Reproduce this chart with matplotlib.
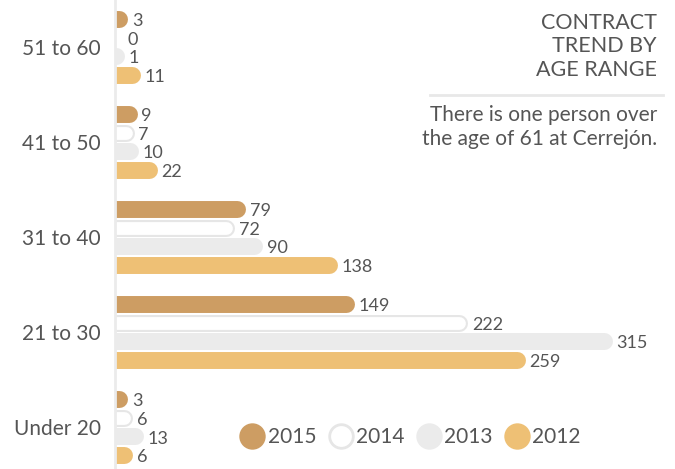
import matplotlib
matplotlib.use("Agg")
import matplotlib.pyplot as plt
from matplotlib.lines import Line2D

# data
age_ranges = ["51 to 60", "41 to 50", "31 to 40", "21 to 30", "Under 20"]
years = ["2015", "2014", "2013", "2012"]
v2015 = [3, 9, 79, 149, 3]
v2014 = [0, 7, 72, 222, 6]
v2013 = [1, 10, 90, 315, 13]
v2012 = [11, 22, 138, 259, 6]
series = [v2015, v2014, v2013, v2012]

colors = ["#cd9d63", "#ffffff", "#ebebeb", "#eec075"]
edge = "#e6e6e6"
txt = "#555555"

plt.rcParams["font.family"] = ["Lato", "DejaVu Sans"]

fig = plt.figure(figsize=(6.75, 4.69), dpi=100)
ax = fig.add_axes([0.170, 0.0, 0.83, 1.0])

step = 0.195  # spacing of bars inside a group
bar_lw = 12.2

for k, vals in enumerate(series):
    for i, v in enumerate(vals):
        y = i + (k - 1.5) * step
        if k == 1:
            ax.plot([0, v], [y, y], color=edge, lw=bar_lw, solid_capstyle="round", zorder=1)
            ax.plot([0, v], [y, y], color="#ffffff", lw=bar_lw - 3, solid_capstyle="round", zorder=1.1)
        else:
            ax.plot([0, v], [y, y], color=colors[k], lw=bar_lw, solid_capstyle="round", zorder=1)
        ax.annotate(str(v), (v, y), xytext=(9, -1.5), textcoords="offset points",
                    va="center", ha="left", fontsize=13, color=txt)

ax.set_xlim(0, 361)
ax.set_ylim(4.44, -0.492)
ax.set_yticks(range(len(age_ranges)))
ax.set_yticklabels(age_ranges, fontsize=15, color=txt)
ax.tick_params(axis="y", length=0, pad=10)
ax.set_xticks([])
for s in ["top", "right", "bottom"]:
    ax.spines[s].set_visible(False)
ax.spines["left"].set_color("#ebebeb")
ax.spines["left"].set_linewidth(2)

# title block
fig.text(0.973, 0.972, "CONTRACT\nTREND BY\nAGE RANGE", ha="right", va="top",
         fontsize=15.5, color=txt, linespacing=1.2)
fig.add_artist(Line2D([0.637, 0.982], [0.797, 0.797], color="#e8e8e8", lw=2))
fig.text(0.973, 0.777, "There is one person over\nthe age of 61 at Cerrejón.", ha="right", va="top",
         fontsize=15, color=txt, linespacing=1.25)

# legend
handles = []
for k, yr in enumerate(years):
    ec = edge if k == 1 else colors[k]
    handles.append(Line2D([], [], marker="o", ls="none", markersize=17,
                          markerfacecolor=colors[k], markeredgecolor=ec, markeredgewidth=2))
fig.legend(handles, years, loc="center", bbox_to_anchor=(0.608, 0.068), ncol=4, frameon=False,
           handletextpad=0.15, columnspacing=0.55, handlelength=1.2, labelcolor=txt,
           prop={"size": 15})

fig.savefig("out.png", dpi=100)
